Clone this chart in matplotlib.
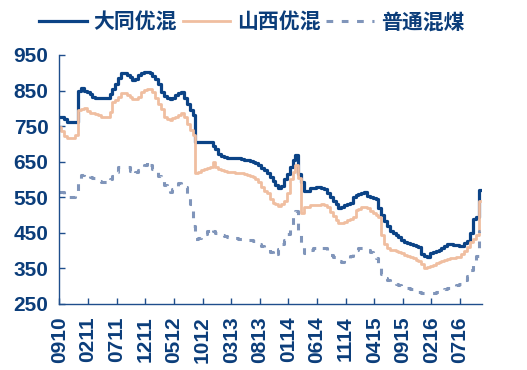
import numpy as np
import matplotlib
matplotlib.use('Agg')
import matplotlib.pyplot as plt

plt.rcParams['font.family'] = ['Liberation Sans', 'Noto Sans CJK SC', 'DejaVu Sans']

# semi-monthly prices (yuan/t), Sep 2010 -> Nov 2016
datong = [776, 776, 770, 761, 761, 761, 761, 850, 858, 850,
          845, 840, 832, 828, 828, 828, 828, 830, 840, 855,
          868, 885, 900, 900, 893, 888, 880, 882, 895, 900,
          903, 902, 898, 892, 882, 868, 845, 835, 828, 825,
          828, 838, 843, 845, 828, 812, 795, 780, 706, 706,
          706, 706, 706, 704, 695, 686, 672, 666, 662, 660,
          660, 660, 660, 660, 658, 656, 655, 652, 650, 646,
          640, 633, 627, 618, 608, 597, 585, 577, 582, 600,
          615, 635, 655, 669, 615, 592, 568, 568, 575, 577,
          578, 578, 576, 574, 563, 550, 540, 530, 519, 524,
          528, 530, 533, 552, 555, 558, 562, 566, 554, 552,
          548, 544, 520, 500, 484, 470, 455, 450, 443, 437,
          430, 425, 421, 419, 416, 414, 411, 390, 385, 383,
          392, 397, 400, 403, 408, 412, 418, 418, 416, 415,
          413, 412, 422, 428, 450, 488, 495, 570]

shanxi = [748, 735, 722, 718, 716, 716, 725, 795, 798, 800,
          792, 788, 786, 783, 780, 777, 777, 777, 790, 819,
          823, 832, 842, 842, 838, 832, 826, 826, 833, 845,
          852, 855, 855, 845, 828, 812, 798, 777, 770, 767,
          772, 777, 782, 788, 777, 755, 739, 725, 617, 622,
          627, 629, 631, 636, 650, 636, 630, 627, 624, 622,
          620, 620, 619, 618, 617, 615, 613, 610, 606, 600,
          594, 578, 568, 561, 545, 535, 530, 525, 530, 540,
          561, 600, 620, 640, 605, 505, 522, 524, 527, 528,
          528, 529, 530, 527, 522, 510, 498, 485, 477, 479,
          481, 485, 489, 495, 514, 518, 524, 522, 519, 512,
          507, 500, 495, 445, 420, 406, 403, 401, 399, 397,
          393, 389, 385, 381, 378, 375, 370, 362, 350, 355,
          358, 361, 366, 369, 372, 374, 376, 378, 380, 382,
          383, 390, 400, 411, 425, 432, 444, 540]

hunmei = [566, 566, 555, 550, 550, 552, 554, 590, 612, 615,
          611, 607, 603, 599, 597, 594, 592, 591, 600, 610,
          622, 636, 636, 636, 636, 625, 615, 620, 626, 631,
          642, 653, 640, 629, 620, 611, 598, 585, 575, 565,
          572, 582, 589, 585, 578, 560, 530, 470, 432, 436,
          440, 448, 455, 463, 456, 449, 446, 443, 441, 439,
          438, 436, 435, 434, 433, 432, 431, 429, 426, 422,
          419, 414, 410, 406, 396, 385, 390, 405, 418, 430,
          448, 465, 495, 512, 450, 410, 394, 396, 402, 407,
          409, 408, 407, 406, 398, 388, 382, 376, 371, 369,
          374, 380, 386, 395, 403, 406, 406, 406, 403, 395,
          386, 378, 362, 335, 322, 317, 312, 309, 305, 302,
          300, 298, 295, 292, 289, 286, 283, 281, 281, 281,
          281, 282, 284, 286, 289, 292, 295, 298, 300, 303,
          306, 308, 318, 328, 345, 365, 385, 455]

tick_labels = ['0910', '0211', '0711', '1211', '0512', '1012', '0313', '0813',
               '0114', '0614', '1114', '0415', '0915', '0216', '0716']
series_names = ['大同优混', '山西优混', '普通混煤']

navy = '#0b3d7a'
fig = plt.figure(figsize=(5.27, 3.70), dpi=100)
ax = fig.add_axes([0.1129, 0.1784, 0.8017, 0.673])

x = np.arange(len(datong))
ax.plot(x, datong, color='#0b4386', lw=2.3, drawstyle='steps-mid', label=series_names[0])
ax.plot(x, shanxi, color='#f0bea0', lw=2.0, drawstyle='steps-mid', label=series_names[1])
ax.plot(x, hunmei, color='#8095ba', lw=2.2, drawstyle='steps-mid',
        linestyle=(0, (2.2, 2.8)), label=series_names[2])

ax.set_xlim(0, 147.7)
ax.set_ylim(250, 950)
ax.set_yticks(np.arange(250, 951, 100))
ax.set_xticks(np.arange(0, 141, 10))
ax.set_xticklabels(tick_labels, rotation=90)

for s in ['top', 'right']:
    ax.spines[s].set_visible(False)
for s in ['left', 'bottom']:
    ax.spines[s].set_color('#1f4e8c')
    ax.spines[s].set_linewidth(1.0)
ax.tick_params(axis='both', direction='in', length=4.5, width=1.0, color='#1f4e8c',
               labelsize=15, labelcolor=navy)
ax.tick_params(axis='y', pad=8)
ax.tick_params(axis='x', pad=9)
for lbl in ax.get_xticklabels() + ax.get_yticklabels():
    lbl.set_fontweight('bold')

leg = fig.legend(loc='center', bbox_to_anchor=(0.477, 0.94), ncol=3, frameon=False,
                 handlelength=2.3, handletextpad=0.3, columnspacing=0.3,
                 prop={'family': ['Noto Sans CJK SC'], 'size': 15, 'weight': 'bold'})
for t in leg.get_texts():
    t.set_color(navy)

fig.savefig('out.png', dpi=100)
